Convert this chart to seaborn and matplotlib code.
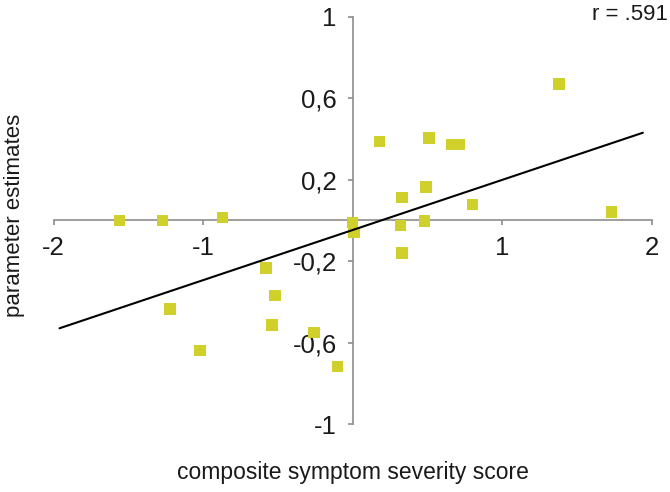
import matplotlib
matplotlib.use("Agg")
import matplotlib.pyplot as plt
import matplotlib.ticker as mticker
import numpy as np
import pandas as pd
import seaborn as sns

# data
severity = [-1.56, -1.27, -0.87, -0.58, -0.52, -0.54, -1.22, -1.02, -0.26, -0.10,
            0.00, 0.01, 0.18, 0.32, 0.33, 0.33, 0.51, 0.48, 0.49, 0.66, 0.71,
            0.80, 1.38, 1.73]
estimates = [0.00, 0.00, 0.015, -0.235, -0.37, -0.515, -0.435, -0.64, -0.55, -0.718,
             -0.01, -0.06, 0.386, -0.025, 0.112, -0.161, 0.405, -0.004, 0.163, 0.371, 0.371,
             0.078, 0.67, 0.04]
fit_x = [-1.96, 1.94]
fit_y = [-0.53, 0.43]
r_label = "r = .591"
x_ticks = [-2, -1, 1, 2]
y_ticks = [-1, -0.6, -0.2, 0.2, 0.6, 1]

sns.set_style("white")
plt.rcParams["font.family"] = ["Liberation Sans", "DejaVu Sans"]

df = pd.DataFrame({"severity": severity, "estimates": estimates})
fit = pd.DataFrame({"x": fit_x, "y": fit_y})

fig = plt.figure(figsize=(6.7, 4.92), dpi=100)
ax = fig.add_axes([0.0799, 0.1382, 0.893, 0.828])

sns.scatterplot(data=df, x="severity", y="estimates", ax=ax, marker="s", s=68,
                color="#D0D02C", edgecolor="none", linewidth=0, clip_on=False, zorder=3)
sns.lineplot(data=fit, x="x", y="y", ax=ax, color="black", linewidth=1.5, zorder=4)

ax.set_xlim(-2, 2)
ax.set_ylim(-1, 1)

for side in ["top", "right"]:
    ax.spines[side].set_visible(False)
for side in ["left", "bottom"]:
    ax.spines[side].set_position(("data", 0))
    ax.spines[side].set_color("#8C8C8C")
    ax.spines[side].set_linewidth(1.2)

fmt = mticker.FuncFormatter(lambda v, p: f"{v:g}".replace(".", ","))
ax.xaxis.set_major_locator(mticker.FixedLocator(x_ticks))
ax.yaxis.set_major_locator(mticker.FixedLocator(y_ticks))
ax.xaxis.set_major_formatter(fmt)
ax.yaxis.set_major_formatter(fmt)
ax.tick_params(axis="both", direction="out", length=3.5, width=1.2, color="#8C8C8C",
               labelsize=18.5, labelcolor="#1a1a1a", pad=8)
ax.tick_params(axis="x", bottom=True)
ax.tick_params(axis="y", left=True)

ax.set_xlabel("")
ax.set_ylabel("")
fig.text(0.527, 0.04, "composite symptom severity score", ha="center", va="center",
         fontsize=16.5, color="#1a1a1a")
fig.text(0.022, 0.563, "parameter estimates", ha="center", va="center", rotation=90,
         fontsize=16, color="#1a1a1a")
fig.text(0.997, 0.97, r_label, ha="right", va="center", fontsize=16, color="#1a1a1a")

fig.savefig("out.png", dpi=100, facecolor="white")
